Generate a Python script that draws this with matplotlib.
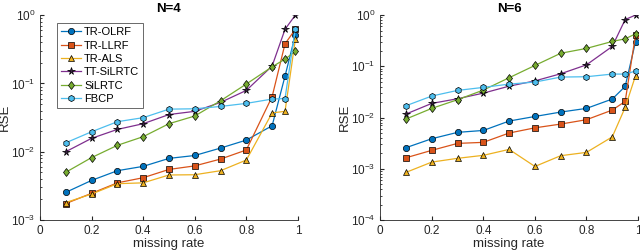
import matplotlib
matplotlib.use("Agg")
import matplotlib.pyplot as plt
import numpy as np

plt.rcParams['font.family'] = ['Liberation Sans', 'DejaVu Sans']

missing_rate = [0.1, 0.2, 0.3, 0.4, 0.5, 0.6, 0.7, 0.8, 0.9, 0.95, 0.99]
methods = ['TR-OLRF', 'TR-LLRF', 'TR-ALS', 'TT-SiLRTC', 'SiLRTC', 'FBCP']

n4_tr_olrf = [2.54e-3, 3.8e-3, 5.27e-3, 6.1e-3, 7.98e-3, 8.8e-3, 0.0113, 0.0148, 0.024, 0.128, 0.515]
n4_tr_llrf = [1.74e-3, 2.46e-3, 3.5e-3, 4.16e-3, 5.5e-3, 6.2e-3, 7.8e-3, 0.0106, 0.064, 0.38, 0.62]
n4_tr_als = [1.8e-3, 2.4e-3, 3.4e-3, 3.5e-3, 4.56e-3, 4.6e-3, 5.27e-3, 7.55e-3, 0.037, 0.039, 0.44]
n4_tt_silrtc = [0.01, 0.0157, 0.0212, 0.0257, 0.035, 0.039, 0.0527, 0.079, 0.18, 0.62, 1.0]
n4_silrtc = [5.0e-3, 8.2e-3, 0.0124, 0.0166, 0.0257, 0.0333, 0.0557, 0.098, 0.175, 0.227, 0.294]
n4_fbcp = [0.0135, 0.0196, 0.0275, 0.0315, 0.042, 0.0425, 0.046, 0.051, 0.059, 0.06, 0.63]

n6_tr_olrf = [2.58e-3, 3.86e-3, 5.14e-3, 5.6e-3, 8.55e-3, 0.0105, 0.0128, 0.0151, 0.023, 0.0406, 0.30]
n6_tr_llrf = [1.64e-3, 2.29e-3, 3.13e-3, 3.28e-3, 4.99e-3, 6.3e-3, 7.46e-3, 9.08e-3, 0.014, 0.0207, 0.41]
n6_tr_als = [8.5e-4, 1.35e-3, 1.6e-3, 1.83e-3, 2.39e-3, 1.11e-3, 1.8e-3, 2.09e-3, 4.2e-3, 0.0158, 0.0655]
n6_tt_silrtc = [0.0117, 0.0189, 0.0233, 0.030, 0.041, 0.052, 0.0716, 0.107, 0.245, 0.82, 1.0]
n6_silrtc = [9.35e-3, 0.0151, 0.0223, 0.0344, 0.0599, 0.104, 0.18, 0.224, 0.306, 0.345, 0.43]
n6_fbcp = [0.017, 0.0263, 0.0339, 0.0388, 0.045, 0.0493, 0.0617, 0.0627, 0.0706, 0.0706, 0.081]

colors = ['#0072BD', '#D95319', '#EDB120', '#7E2F8E', '#77AC30', '#4DBEEE']
faces = ['#0072BD', '#D95319', '#EDB120', '#3a1f45', '#77AC30', '#4DBEEE']
markers = ['o', 's', '^', '*', 'd', 'h']
msizes = [4.5, 4, 4.5, 5.5, 4.5, 4.5]

fig = plt.figure(figsize=(6.4, 2.52), dpi=100)
ax1 = fig.add_axes([0.0625, 0.127, 0.403, 0.813])
ax2 = fig.add_axes([0.594, 0.127, 0.403, 0.813])

def draw(ax, series, title, ylim, legend):
    for i, s in enumerate(series):
        ax.plot(missing_rate, s, color=colors[i], lw=0.9, marker=markers[i],
                markersize=msizes[i], markerfacecolor=faces[i], markeredgecolor='black',
                markeredgewidth=0.5, label=methods[i])
    ax.set_yscale('log')
    ax.set_xlim(0, 1)
    ax.set_ylim(*ylim)
    ax.set_xticks([0, 0.2, 0.4, 0.6, 0.8, 1])
    ax.set_xticklabels(['0', '0.2', '0.4', '0.6', '0.8', '1'])
    ax.spines['top'].set_visible(False)
    ax.spines['right'].set_visible(False)
    for sp in ['left', 'bottom']:
        ax.spines[sp].set_color('#262626')
        ax.spines[sp].set_linewidth(0.6)
    ax.tick_params(which='both', direction='in', colors='#262626', labelsize=8.5)
    ax.tick_params(which='major', length=3)
    ax.tick_params(which='minor', length=1.5)
    ax.set_xlabel('missing rate', fontsize=9.5, color='#262626', labelpad=1)
    ax.set_ylabel('RSE', fontsize=9.5, color='#262626')
    ax.yaxis.set_label_coords(-0.113, 0.5)
    ax.set_title(title, fontsize=9.5, fontweight='bold', pad=2)
    if legend:
        leg = ax.legend(loc='upper left', bbox_to_anchor=(0.065, 0.96), fontsize=8,
                        frameon=True, fancybox=False, edgecolor='#262626',
                        handlelength=1.8, handletextpad=0.3, borderpad=0.35,
                        labelspacing=0.3, borderaxespad=0)
        leg.get_frame().set_linewidth(0.6)

draw(ax1, [n4_tr_olrf, n4_tr_llrf, n4_tr_als, n4_tt_silrtc, n4_silrtc, n4_fbcp], 'N=4', (1e-3, 1), True)
draw(ax2, [n6_tr_olrf, n6_tr_llrf, n6_tr_als, n6_tt_silrtc, n6_silrtc, n6_fbcp], 'N=6', (1e-4, 1), False)

fig.savefig('out.png', dpi=100)
